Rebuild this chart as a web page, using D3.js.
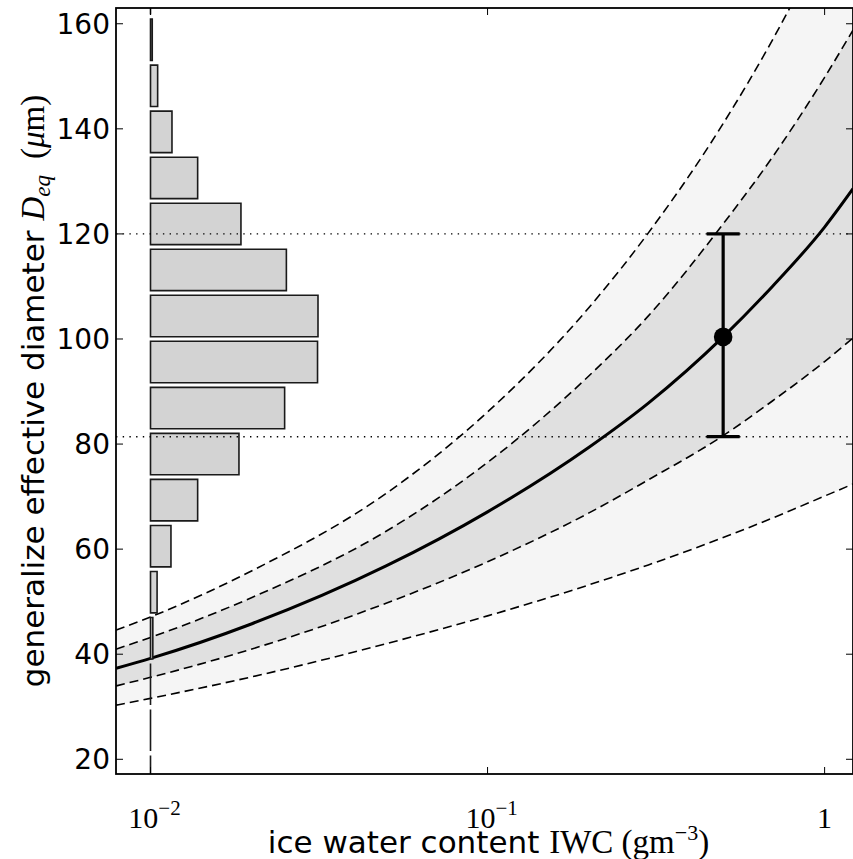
<!DOCTYPE html>
<html>
<head>
<meta charset="utf-8">
<script src="https://cdn.jsdelivr.net/npm/d3@7"></script>
<style>
  html, body { margin: 0; padding: 0; background: #fff; }
  svg { display: block; }
</style>
</head>
<body>
<svg id="chart" width="853" height="859"></svg>
<script>
// ---------------- data ----------------
const iwc = [0.0079, 0.01, 0.02, 0.05, 0.1, 0.2, 0.3, 0.5, 0.7, 1.0, 1.214];
const deqCenter     = [37.3, 39.2, 45.8, 56.8, 67.1, 79.4, 87.8, 100.4, 110.0, 121.3, 128.6];
const deqInnerUpper = [40.95, 43.2, 50.8, 63.4, 76.5, 93.0, 104.4, 121.9, 134.6, 149.8, 158.8];
const deqOuterUpper = [44.6, 47.1, 55.9, 70.6, 86.1, 106.0, 120.2, 141.0, 156.9, 176.0, 187.2];
const deqInnerLower = [33.96, 35.6, 41.0, 49.7, 57.6, 66.9, 73.2, 81.6, 88.2, 95.7, 100.2];
const deqOuterLower = [30.3, 31.6, 35.7, 42.0, 47.3, 53.2, 57.0, 62.2, 65.9, 70.1, 72.4];

// histogram of Deq (bin centres in µm, frequency offset from IWC = 0.01)
const histCenters = [165.71, 156.95, 148.19, 139.42, 130.66, 121.90, 113.14, 104.38, 95.62,
                     86.85, 78.09, 69.33, 60.57, 51.81, 43.04, 34.28, 25.52, 16.76];
const histFreq    = [0, 0.00012, 0.0005, 0.00158, 0.0038, 0.00855, 0.0153, 0.0214, 0.0213,
                     0.0150, 0.0083, 0.0038, 0.0015, 0.00046, 0.00016, 0, 0, 0];
const histBinWidth = 8.762;
const histBase = 0.01;

// measurement point with error bar
const pointIWC = 0.5, pointDeq = 100.4, pointLow = 81.4, pointHigh = 120.0;
const refLines = [120.0, 81.4];

const xTicks = [0.01, 0.1, 1];
const xTickExp = ["\u22122", "\u22121", ""];
const yTicks = [20, 40, 60, 80, 100, 120, 140, 160];

// ---------------- layout ----------------
const L = 116, R = 853, T = 8, B = 774;
const svg = d3.select("#chart");
const x = d3.scaleLog().domain([0.0079, 1.214]).range([L, R]);
const y = d3.scaleLinear().domain([17.2, 163.0]).range([B, T]);

svg.append("defs").append("clipPath").attr("id", "plotclip")
  .append("rect").attr("x", L).attr("y", T).attr("width", R - L).attr("height", B - T);

const g = svg.append("g").attr("clip-path", "url(#plotclip)");

const pts = (lo, hi) => iwc.map((v, i) => ({x: v, lo: lo[i], hi: hi ? hi[i] : null}));
const area = d3.area().x(d => x(d.x)).y0(d => y(d.lo)).y1(d => y(d.hi)).curve(d3.curveMonotoneX);
const line = d3.line().x(d => x(d.x)).y(d => y(d.lo)).curve(d3.curveMonotoneX);

// bands
g.append("path").datum(pts(deqOuterLower, deqOuterUpper)).attr("d", area).attr("fill", "#f5f5f5");
g.append("path").datum(pts(deqInnerLower, deqInnerUpper)).attr("d", area).attr("fill", "#e0e0e0");

// dashed bounds
[deqOuterUpper, deqInnerUpper, deqInnerLower, deqOuterLower].forEach(arr => {
  g.append("path").datum(pts(arr)).attr("d", line)
    .attr("fill", "none").attr("stroke", "#000").attr("stroke-width", 1.6)
    .attr("stroke-dasharray", "9,5");
});
// centre line
g.append("path").datum(pts(deqCenter)).attr("d", line)
  .attr("fill", "none").attr("stroke", "#000").attr("stroke-width", 3);

// histogram bars
const barH = histBinWidth * 0.9;
g.selectAll("path.bar").data(histCenters.map((c, i) => ({c, f: histFreq[i]})))
  .enter().append("path").attr("class", "bar")
  .attr("d", d => {
    const x0 = x(histBase), x1 = x(histBase + d.f);
    const y0 = y(d.c + barH / 2), y1 = y(d.c - barH / 2);
    return `M${x0},${y0}H${x1}V${y1}H${x0}Z`;
  })
  .attr("fill", "#d3d3d3").attr("stroke", "#1a1a1a").attr("stroke-width", 1.6);

// dotted reference lines
refLines.forEach(v => {
  g.append("line").attr("x1", L).attr("x2", R).attr("y1", y(v)).attr("y2", y(v))
    .attr("stroke", "#000").attr("stroke-width", 1.4).attr("stroke-dasharray", "1.4,5.3");
});

// error bar
const px = x(pointIWC);
g.append("line").attr("x1", px).attr("x2", px).attr("y1", y(pointLow)).attr("y2", y(pointHigh))
  .attr("stroke", "#000").attr("stroke-width", 3.2);
[pointLow, pointHigh].forEach(v => {
  g.append("line").attr("x1", px - 16.5).attr("x2", px + 16.5).attr("y1", y(v)).attr("y2", y(v))
    .attr("stroke", "#000").attr("stroke-width", 3.2);
});
g.append("circle").attr("cx", px).attr("cy", y(pointDeq)).attr("r", 9.3).attr("fill", "#000");

// frame & ticks
const axisG = svg.append("g");
axisG.append("rect").attr("x", L).attr("y", T).attr("width", R - L).attr("height", B - T)
  .attr("fill", "none").attr("stroke", "#000").attr("stroke-width", 1.8);

const tl = 7;
yTicks.forEach(v => {
  axisG.append("line").attr("x1", L).attr("x2", L + tl).attr("y1", y(v)).attr("y2", y(v))
    .attr("stroke", "#000").attr("stroke-width", 1);
  axisG.append("line").attr("x1", R).attr("x2", R - tl).attr("y1", y(v)).attr("y2", y(v))
    .attr("stroke", "#000").attr("stroke-width", 1);
  axisG.append("text").attr("x", L - 6).attr("y", y(v)).attr("dy", "0.36em")
    .attr("text-anchor", "end").attr("font-family", "DejaVu Sans").attr("font-size", 28)
    .text(v);
});
xTicks.forEach((v, i) => {
  axisG.append("line").attr("x1", x(v)).attr("x2", x(v)).attr("y1", B).attr("y2", B - tl)
    .attr("stroke", "#000").attr("stroke-width", 1);
  axisG.append("line").attr("x1", x(v)).attr("x2", x(v)).attr("y1", T).attr("y2", T + tl)
    .attr("stroke", "#000").attr("stroke-width", 1);
  const t = axisG.append("text").attr("x", x(v) + (xTickExp[i] ? 4 : 0)).attr("y", 828)
    .attr("text-anchor", "middle").attr("font-family", "Liberation Serif").attr("font-size", 30);
  if (xTickExp[i]) {
    t.append("tspan").text("10");
    t.append("tspan").attr("dy", -13).attr("font-size", 21).text(xTickExp[i]);
  } else {
    t.append("tspan").text("1");
  }
});

// axis labels
const xl = svg.append("text").attr("x", (L + R) / 2 + 4).attr("y", 853)
  .attr("text-anchor", "middle").attr("font-size", 31);
xl.append("tspan").attr("font-family", "DejaVu Sans").text("ice water content ");
xl.append("tspan").attr("font-family", "Liberation Serif").attr("font-size", 33).text("IWC (gm");
xl.append("tspan").attr("font-family", "Liberation Serif").attr("font-size", 22).attr("dy", -13).text("\u22123");
xl.append("tspan").attr("font-family", "Liberation Serif").attr("font-size", 33).attr("dy", 13).text(")");

const yl = svg.append("text").attr("transform", `translate(44,${(T + B) / 2}) rotate(-90)`)
  .attr("text-anchor", "middle").attr("font-size", 31);
yl.append("tspan").attr("font-family", "DejaVu Sans").text("generalize effective diameter ");
yl.append("tspan").attr("font-family", "Liberation Serif").attr("font-style", "italic").attr("font-size", 33).text("D");
yl.append("tspan").attr("font-family", "Liberation Serif").attr("font-style", "italic").attr("font-size", 23).attr("dy", 6).text("eq");
yl.append("tspan").attr("font-family", "Liberation Serif").attr("font-size", 33).attr("dy", -6).attr("dx", 16).text("(");
yl.append("tspan").attr("font-family", "Liberation Serif").attr("font-style", "italic").attr("font-size", 33).text("\u03bc");
yl.append("tspan").attr("font-family", "Liberation Serif").attr("font-size", 33).text("m)");
</script>
</body>
</html>
